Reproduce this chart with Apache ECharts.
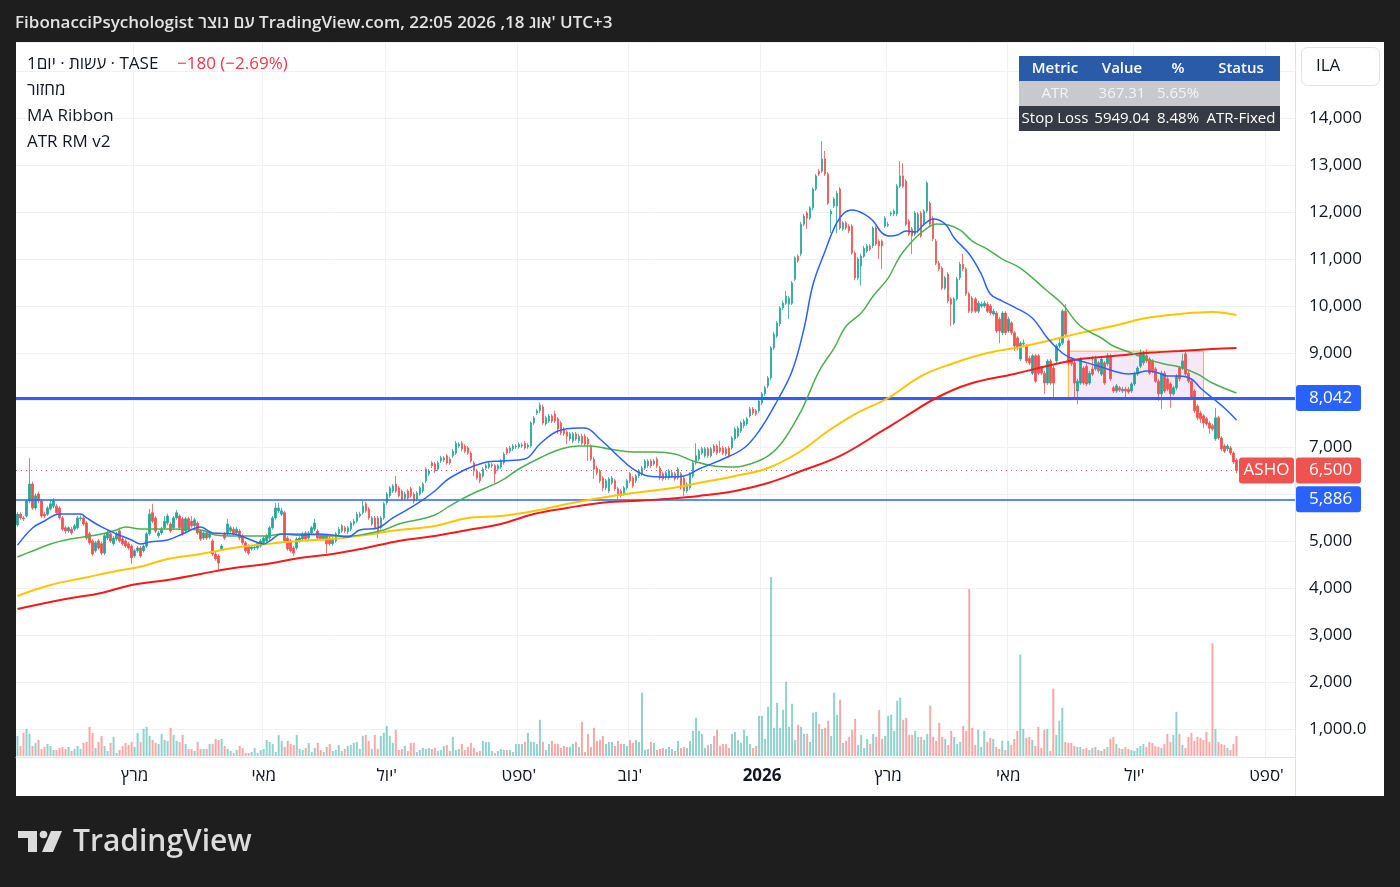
<!DOCTYPE html>
<html>
<head>
<meta charset="utf-8">
<title>ASHO - TASE</title>
<script src="https://cdn.jsdelivr.net/npm/echarts@6/dist/echarts.min.js"></script>
<style>
    html, body {margin: 0; padding: 0; background: #1e1e1e;}
    #chart {width: 1400px; height: 887px;}
</style>
</head>
<body>
<div id="chart"></div>
<script>
// ASHO daily candles (Jan 2025 .. 18 Aug 2026)
const opens = [
    5340,5570,5490,5530,5850,6210,5700,6000,5850,5570, 5570,5680,5740,5740,5700,5490,5280,5210,5250,5250,
    5280,5470,5490,5380,5150,5000,4790,5000,4940,4740, 5060,5150,4940,5040,5210,5040,5000,4940,4890,4680,
    4790,4850,4790,4890,5150,5600,5490,5110,5170,5280, 5380,5360,5280,5490,5530,5470,5210,5470,5420,5320,
    5380,5210,5060,5170,5080,5000,4720,4680,4830,5150, 5150,5210,5250,5170,5210,5110,4960,4890,4830,4850,
    4850,4890,4960,5000,5060,5280,5490,5640,5570,5600, 5060,5000,4850,4850,5000,5040,5170,5060,5170,5250,
    5210,5110,5040,5110,5060,4940,5000,5150,5210,5280, 5190,5250,5360,5420,5530,5600,5790,5680,5360,5490,
    5490,5280,5490,5810,5960,6060,6210,6130,6060,5910, 6060,6110,6000,5890,6000,6060,6280,6430,6660,6640,
    6530,6700,6720,6810,6740,6810,6870,7020,7080,7020, 6980,6870,6660,6490,6430,6380,6550,6570,6600,6600,
    6530,6570,6660,6960,6910,6960,7000,7000,7020,7080, 7000,7020,7510,7720,7770,7850,7490,7550,7660,7700,
    7600,7510,7380,7320,7170,7130,7280,7130,7230,7230, 7170,7020,6740,6550,6490,6340,6130,6060,6230,6280,
    6110,6060,6000,6130,6430,6340,6280,6380,6430,6550, 6600,6700,6640,6740,6550,6430,6340,6340,6380,6430,
    6340,6430,6340,6060,6130,6380,6660,6740,6870,6810, 6960,6810,7020,7020,6980,6980,6960,6980,6980,7170,
    7230,7340,7450,7490,7660,7810,7770,7770,7940,8130, 8300,8470,9110,9360,9620,9960,10060,10040,10060,10570,
    11060,11110,11740,11980,11870,12090,12490,12870,12870,13130, 12810,11960,12130,12130,12490,11640,11770,11700,11700,11130,
    10600,10850,11060,11170,11280,11280,11660,11380,11380,11700, 11720,11960,11960,11960,12550,12770,12660,11810,11640,11530,
    11600,11980,11740,12020,12190,11870,11380,10910,10810,10380, 10680,10150,9640,10150,10600,10890,10790,10260,10170,10150,
    9890,10000,10000,10040,10000,9830,9850,9720,9430,9850, 9470,9640,9430,9320,8870,9190,9150,8890,8570,8940,
    8940,8680,8570,8360,8830,8680,8830,9150,9210,9890, 9260,8870,8790,8190,8360,8680,8720,8360,8660,8660,
    8790,8550,8790,8770,8940,8260,8190,8260,8190,8230, 8230,8190,8340,8550,8720,8790,8940,8870,8830,8660,
    8400,8130,8570,8450,8340,8130,8260,8680,8680,8980, 8570,8400,8190,7870,7720,7660,7600,7510,7450,7170,
    7620,7190,7020,6960,6980,6870,6720
];
const closes = [
    5570,5490,5470,5850,6210,5700,5960,5850,5530,5530, 5700,5790,5850,5600,5490,5250,5210,5280,5170,5320,
    5490,5490,5360,5060,4960,4720,4960,4850,4740,5110, 5170,5000,5060,5150,5000,4940,4890,4850,4640,4790,
    4850,4680,4890,5150,5570,5420,5210,5170,5250,5420, 5530,5210,5490,5600,5280,5150,5470,5250,5320,5450,
    5170,5040,5170,5060,5150,4720,4620,4530,4890,5060, 5360,5280,5150,5250,5060,4960,4790,4740,4870,4870,
    4940,5000,5060,5110,5280,5490,5700,5700,5640,5000, 4830,4790,4740,5040,5060,5150,5040,5170,5280,5380,
    5060,5040,5110,4940,4940,5040,5150,5250,5320,5210, 5280,5380,5420,5570,5570,5740,5640,5490,5490,5280,
    5210,5490,5790,6000,6130,6170,6060,5960,5890,6000, 5910,5960,5850,6020,6130,6210,6530,6490,6600,6490,
    6660,6770,6770,6660,6660,6910,7080,7060,6960,6910, 6870,6700,6490,6340,6280,6530,6600,6640,6620,6430,
    6600,6700,6850,6870,6980,7020,7020,7060,7040,6980, 7040,7510,7620,7770,7890,7510,7620,7660,7550,7550,
    7380,7300,7280,7230,7280,7280,7170,7230,7080,7060, 7060,6740,6530,6450,6280,6130,6280,6320,6340,6110,
    6000,5960,6130,6280,6280,6170,6380,6490,6550,6700, 6700,6600,6700,6600,6340,6320,6450,6490,6450,6320,
    6530,6130,6060,6210,6430,6660,6810,6910,6960,6960, 6810,6960,6910,6870,6910,6870,6850,6810,7190,7380,
    7400,7510,7550,7600,7810,7720,7700,7980,8130,8260, 8470,9110,9400,9640,9960,10060,10210,10170,10490,11020,
    10960,11740,11910,11870,12090,12490,12770,12810,13130,12810, 12190,12020,12280,12400,11660,11770,11660,11600,11130,10600,
    11000,11060,11230,11280,11210,11660,11320,11280,11280,11870, 11740,11980,12020,12550,12770,12550,11740,11530,11490,11980,
    11960,11490,12020,12620,11740,11430,10910,10790,10380,10600, 10110,10040,10150,10570,10890,10790,10260,9890,9890,9890,
    10060,10040,10060,9890,9850,9890,9470,9470,9850,9430, 9720,9430,9150,9110,9210,9210,8830,8790,8940,8400,
    8570,8570,8360,8830,8360,8360,9150,9210,9890,9400, 8790,8770,8360,8400,8870,8360,8340,8570,8550,8870,
    8620,8870,8360,8940,8450,8190,8300,8210,8230,8190, 8170,8340,8550,8680,9000,9000,8830,8570,8620,8400,
    8130,8570,8190,8230,8130,8260,8510,8450,8830,8550, 8400,8040,7770,7620,7600,7510,7490,7400,7380,7620,
    7190,6960,6910,7020,6870,6680,6500
];
const highs = [
    5620,5610,5530,5880,6760,6260,6010,6050,5900,5620, 5740,5890,5910,5790,5740,5530,5320,5310,5300,5360,
    5530,5540,5530,5420,5190,5040,5000,5040,4980,5150, 5250,5190,5100,5190,5280,5080,5040,4980,4930,4830,
    4890,4890,4930,5190,5680,5790,5530,5210,5300,5530, 5580,5400,5530,5660,5570,5510,5510,5510,5530,5490,
    5420,5250,5210,5210,5190,5040,4760,4720,4930,5190, 5470,5320,5300,5300,5250,5150,5000,4930,4910,4910,
    4980,5040,5100,5150,5320,5530,5810,5810,5700,5640, 5100,5040,4890,5080,5100,5190,5210,5210,5320,5470,
    5250,5150,5150,5150,5100,5080,5190,5300,5360,5320, 5320,5420,5470,5620,5620,5850,5830,5720,5530,5530,
    5530,5530,5830,6040,6170,6210,6380,6170,6100,6040, 6100,6150,6040,6060,6170,6250,6570,6530,6700,6680,
    6700,6810,6810,6850,6790,6960,7130,7100,7130,7060, 7020,6910,6700,6530,6470,6570,6640,6680,6660,6640,
    6640,6740,6890,7000,7020,7060,7060,7100,7080,7130, 7080,7550,7660,7810,7940,7900,7660,7700,7700,7770,
    7640,7550,7420,7360,7320,7320,7320,7280,7280,7280, 7210,7060,6790,6600,6530,6380,6320,6360,6380,6320,
    6150,6100,6170,6320,6470,6380,6420,6530,6600,6740, 6740,6740,6740,6790,6600,6470,6490,6530,6490,6470,
    6570,6470,6380,6250,6470,6700,7080,6960,7000,7000, 7000,7000,7060,7060,7130,7020,7000,7020,7230,7420,
    7450,7550,7600,7640,7850,7850,7810,8020,8170,8300, 8510,9150,9450,9680,10000,10110,10320,10210,10530,11060,
    11100,11790,11960,12020,12130,12530,12810,12920,13510,13300, 12850,12060,12320,12450,12530,11810,11810,11740,11740,11170,
    11040,11110,11280,11320,11320,11700,11700,11420,11420,11910, 11790,12020,12060,12600,13080,13040,12700,11850,11680,12020,
    12000,12020,12060,12660,12230,11910,11430,10960,10850,10640, 10720,10190,10190,10620,10940,11110,10830,10300,10210,10190,
    10110,10090,10110,10090,10040,9940,9890,9770,9890,9890, 9770,9680,9470,9360,9250,9290,9190,8940,8980,8980,
    8980,8720,8620,8870,8870,8720,9190,9300,9940,10040, 9300,8910,8830,8450,8910,8720,8770,8620,8940,8940,
    8830,8910,8830,9000,8980,8300,8340,8300,8280,8280, 8280,8380,8600,8720,9080,9040,9080,8910,8870,8700,
    8450,8620,8620,8490,8380,8300,8550,8720,8980,9020, 8620,8450,8230,7910,7770,7700,7640,7550,7490,7830,
    7660,7230,7060,7060,7020,6910,6760
];
const lows = [
    5300,5450,5420,5500,5800,5660,5650,5800,5490,5480, 5530,5650,5700,5560,5450,5210,5150,5170,5130,5210,
    5240,5430,5320,5020,4920,4680,4750,4810,4700,4700, 5020,4960,4900,5000,4960,4900,4850,4810,4510,4640,
    4750,4640,4750,4850,5110,5380,5170,5060,5130,5240, 5340,5170,5240,5450,5240,5110,5170,5210,5280,5280,
    5130,5000,5020,5020,5040,4680,4580,4360,4790,5020, 5110,5170,5110,5130,5020,4920,4750,4700,4790,4810,
    4810,4850,4920,4960,5020,5240,5450,5600,5530,4960, 4790,4750,4680,4810,4960,5000,5000,5020,5130,5210,
    5020,5000,5000,4740,4900,4900,4960,5110,5170,5170, 5150,5210,5320,5380,5490,5560,5600,5450,5320,5240,
    5060,5240,5450,5770,5920,6020,6020,5920,5850,5870, 5870,5920,5790,5850,5960,6020,6230,6380,6550,6450,
    6490,6660,6680,6620,6620,6770,6830,6980,6910,6870, 6830,6660,6380,6300,6230,6340,6510,6530,6550,6230,
    6490,6530,6620,6830,6870,6910,6960,6960,6980,6940, 6960,6980,7470,7680,7720,7470,7450,7510,7510,7510,
    7280,7250,7230,7060,7130,7080,7130,7080,7040,7020, 6700,6700,6320,6400,6230,6060,6080,6020,6190,6060,
    5890,5920,5960,6090,6230,6130,6230,6340,6380,6510, 6550,6550,6600,6550,6300,6280,6300,6300,6340,6280,
    6300,6090,5960,6020,6090,6340,6620,6700,6830,6770, 6770,6770,6870,6830,6870,6830,6810,6770,6940,7130,
    7190,7300,7400,7450,7620,7680,7660,7720,7890,8080, 8250,8420,9060,9320,9570,9910,10020,9720,10020,10530,
    10920,11060,11700,11640,11830,12040,12450,12770,12830,12770, 12150,11550,12090,11550,11620,11600,11620,11550,11090,10550,
    10550,10430,11020,11130,11170,11230,11280,11000,10790,11660, 11680,11910,11910,11910,12510,12510,11700,11490,11110,11490,
    11550,11450,11700,11980,11700,11380,10870,10740,10340,10340, 10060,9570,9600,10110,10550,10740,10210,9850,9850,9850,
    9850,9960,9960,9850,9810,9790,9430,9210,9380,9380, 9430,9380,9040,9060,8830,9150,8790,8740,8530,8360,
    8530,8530,8130,8320,8320,8040,8790,9100,9170,9360, 8740,8720,8040,7910,8320,8320,8300,8320,8510,8620,
    8570,8510,8320,8720,8400,8150,8150,8170,8150,8040, 8130,8150,8300,8510,8680,8740,8790,8530,8570,8360,
    7980,7810,8150,8190,7830,8090,8210,8400,8640,8510, 8360,8000,7720,7570,7510,7400,7450,7280,7340,7130,
    7150,6910,6870,6910,6830,6640,6440
];
// volume, thousands of shares
const volumes = [
    20,10,23,27,22,10,13,16,7,9, 12,10,6,6,8,9,7,9,5,7, 10,7,13,14,29,23,8,14,20,10,
    5,13,19,3,6,10,13,11,14,9, 23,14,27,29,20,16,13,12,22,16, 15,28,21,15,14,21,12,7,7,5,
    14,7,7,7,12,12,17,16,17,10, 7,5,3,6,10,8,3,3,4,8, 3,6,7,16,14,12,4,21,15,9,
    15,12,11,21,7,6,8,13,4,8, 13,6,4,9,12,5,6,11,5,7, 10,11,13,14,7,20,21,15,7,21,
    7,20,23,30,20,13,26,6,7,10, 5,13,13,4,6,8,7,8,7,8, 5,6,10,11,5,19,6,7,12,6,
    9,13,8,4,5,15,14,14,5,3, 5,7,6,6,6,4,12,12,12,14, 23,14,14,12,36,14,6,12,15,12,
    12,8,10,9,9,12,14,9,34,4, 22,9,28,15,16,20,12,14,14,10, 15,12,12,10,16,13,16,14,63,6,
    7,14,13,6,7,8,7,9,7,5, 15,8,9,8,15,25,38,25,22,8, 11,12,20,26,10,12,12,8,22,24,
    16,13,26,20,12,8,10,40,40,17, 49,178,28,53,28,46,74,29,52,16, 31,29,22,22,14,43,44,32,27,28,
    35,20,63,41,56,13,15,19,26,37, 11,21,8,17,12,22,19,46,17,20, 40,41,25,55,58,36,38,21,21,25,
    19,19,16,22,50,19,15,33,19,17, 11,25,19,12,14,30,25,166,28,11, 26,9,25,14,18,17,9,7,15,6,
    15,11,17,25,101,27,18,19,16,10, 29,8,26,27,5,67,21,35,48,14, 13,13,10,9,9,7,8,6,8,9,
    6,5,7,9,17,19,12,8,7,9, 7,6,5,8,10,12,9,14,13,10, 9,8,12,22,14,21,44,22,11,8,
    19,23,15,19,18,16,24,14,112,27, 14,12,11,8,6,12,20
];

// MA ribbon as [bar index, price]
const maBlue = [[0,4910],[5,5275],[9,5424],[14,5573],[21,5573],[23,5488],[28,5297],[33,5148],[38,5020],[41,4935],
    [44,4978],[50,5020],[55,5148],[61,5297],[65,5169],[72,5148],[77,5041],[82,4935],[84,5000],[88,5148],[94,5126],
    [100,5148],[105,5126],[110,5084],[114,5233],[120,5275],[125,5488],[133,5786],[139,6063],[144,6339],[155,6659],
    [161,6701],[169,6744],[174,7063],[180,7340],[187,7403],[189,7403],[194,7169],[200,6808],[205,6531],[210,6382],
    [216,6360],[222,6382],[227,6531],[235,6744],[242,6978],[247,7340],[253,7978],[258,8616],[262,9531],[265,10468],
    [269,11170],[272,11659],[275,11957],[278,12042],[282,11957],[285,11808],[288,11553],[291,11489],[293,11510],
    [296,11596],[299,11574],[302,11745],[305,11851],[309,11745],[312,11447],[317,11106],[321,10681],[324,10255],
    [328,10106],[332,9978],[338,9745],[343,9319],[348,8999],[351,8893],[354,8829],[360,8723],[365,8616],[370,8553],
    [373,8574],[376,8616],[380,8574],[383,8510],[387,8510],[391,8446],[394,8255],[398,8042],[402,7829],[406,7574]];
const maGreen = [[0,4658],[5,4786],[11,4935],[16,5020],[22,5084],[28,5148],[33,5233],[36,5297],[41,5254],[50,5254],
    [61,5233],[66,5126],[72,5105],[83,5105],[88,5148],[94,5148],[100,5126],[105,5105],[111,5105],[116,5148],[122,5233],
    [127,5361],[133,5446],[139,5552],[144,5744],[150,5956],[161,6276],[167,6531],[174,6765],[181,6957],[187,7020],
    [191,7020],[197,6957],[205,6893],[212,6893],[219,6850],[225,6701],[232,6595],[239,6574],[244,6637],[250,6808],
    [255,7127],[261,7765],[263,8042],[267,8616],[272,9106],[276,9574],[281,9851],[285,10212],[290,10595],[294,11064],
    [299,11447],[303,11659],[306,11745],[310,11723],[314,11617],[318,11383],[323,11213],[328,11000],[334,10808],
    [343,10319],[348,10042],[354,9574],[361,9319],[365,9148],[371,8999],[376,8872],[382,8765],[387,8701],[393,8553],
    [398,8361],[406,8148]];
const maYellow = [[0,3828],[11,4062],[22,4211],[33,4360],[42,4467],[50,4616],[61,4722],[72,4850],[83,4935],[94,4999],
    [105,5041],[116,5126],[127,5233],[139,5318],[150,5488],[161,5531],[172,5637],[183,5786],[194,5914],[205,6020],
    [216,6105],[227,6233],[239,6382],[250,6552],[261,6914],[270,7340],[279,7701],[290,8042],[301,8510],[312,8787],
    [323,8999],[334,9127],[343,9255],[354,9425],[365,9574],[376,9744],[387,9829],[398,9872],[406,9808]];
const maRed = [[0,3552],[16,3765],[28,3892],[38,4062],[50,4169],[61,4296],[72,4424],[83,4509],[94,4637],[105,4722],
    [116,4850],[127,4999],[139,5105],[150,5233],[161,5361],[172,5573],[183,5701],[194,5807],[205,5850],[216,5893],
    [227,5956],[239,6063],[250,6233],[261,6488],[274,6808],[288,7340],[295,7616],[306,8042],[317,8340],[332,8553],
    [343,8723],[354,8872],[365,8936],[376,8999],[387,9043],[398,9085],[406,9106]];

const resistance = 8042;
const stopLevel = 5886;
const lastPrice = 6500;
const boxStart = 350, boxEnd = 395, boxTop = 9040, boxBottom = 8042;

const tableHead = ['Metric', 'Value', '%', 'Status'];
const atrRow = ['ATR', '367.31', '5.65%', ''];
const stopRow = ['Stop Loss', '5949.04', '8.48%', 'ATR-Fixed'];

const hebMonths = ["ינו'", "פבר'", 'מרץ', "אפר'", 'מאי', 'יוני', "יול'", "אוג'", "ספט'", "אוק'", "נוב'", "דצמ'"];
const shownMonths = [0, 2, 4, 6, 8, 10];
const holidays = ['2025-04-13', '2025-05-01', '2025-06-02', '2025-09-22', '2025-09-23', '2025-09-24',
    '2025-10-01', '2025-10-02', '2025-10-07', '2025-10-14',
    '2026-04-01', '2026-04-02', '2026-04-08', '2026-04-22', '2026-05-22'];

const FONT = "'Open Sans', 'DejaVu Sans', sans-serif";
const UP = '#26a69a', DOWN = '#ef5350';

// TASE calendar: Sun-Thu during 2025, Mon-Fri from 2026; extra empty days on the right
let days = [];
let d = new Date(Date.UTC(2025, 0, 6));
while (days.length < 426) {
    const iso = d.toISOString().slice(0, 10);
    const wd = d.getUTCDay();
    const off = d.getUTCFullYear() < 2026 ? (wd === 5 || wd === 6) : (wd === 0 || wd === 6);
    if (!off && !holidays.includes(iso)) days.push(iso);
    d.setUTCDate(d.getUTCDate() + 1);
}

function month_tick(idx) {
    if (idx === 0) return false;
    if (days[idx].slice(5, 7) === days[idx - 1].slice(5, 7)) return false;
    return shownMonths.includes(+days[idx].slice(5, 7) - 1);
}

function ma_series(points, color, width) {
    return {
        type: 'line', data: points.map(p => [days[p[0]], p[1]]), smooth: 0.4, showSymbol: false, silent: true,
        lineStyle: {color: color, width: width}, z: 5
    };
}

let candle_data = opens.map((o, i) => [o, closes[i], lows[i], highs[i]]);
let vol_data = volumes.map((v, i) => ({
    value: v,
    itemStyle: {color: closes[i] >= opens[i] ? 'rgba(38,166,154,0.5)' : 'rgba(239,83,80,0.5)'}
}));

let option = {
    backgroundColor: '#1e1e1e',
    animation: false,
    textStyle: {fontFamily: FONT},
    grid: [
        {left: 16, right: 105, top: 42, bottom: 130},
        {left: 16, right: 105, top: 555, bottom: 131}
    ],
    xAxis: [{
        type: 'category', data: days, gridIndex: 0,
        axisLine: {lineStyle: {color: '#e0e3eb'}}, axisTick: {show: false},
        axisLabel: {
            interval: month_tick, margin: 11, color: '#131722', fontSize: 17, fontFamily: FONT,
            formatter: function (value) {
                const m = +value.slice(5, 7) - 1;
                return m === 0 ? '{y|' + value.slice(0, 4) + '}' : hebMonths[m];
            },
            rich: {y: {fontWeight: 'bold', fontSize: 17, color: '#131722', fontFamily: FONT}}
        },
        splitLine: {show: true, interval: month_tick, lineStyle: {color: '#f0f1f4'}}
    }, {
        type: 'category', data: days, gridIndex: 1, show: false
    }],
    yAxis: [{
        type: 'value', position: 'right', gridIndex: 0,
        min: 400, max: 15620, splitNumber: 15, minInterval: 1000, maxInterval: 1000,
        axisLine: {show: false}, axisTick: {show: false},
        axisLabel: {
            color: '#131722', fontSize: 17, fontFamily: FONT, margin: 14,
            formatter: function (v) {
                if (v % 1000 !== 0 || v === 6000 || v === 8000 || v >= 15000) return '';
                if (v === 1000) return '1,000.0';
                return v.toLocaleString('en-US');
            }
        },
        splitLine: {lineStyle: {color: '#f0f1f4'}}
    }, {
        type: 'value', gridIndex: 1, min: 0, max: 200, show: false, splitLine: {show: false}
    }],
    series: [{
        name: 'ASHO', type: 'candlestick', xAxisIndex: 0, yAxisIndex: 0,
        data: candle_data, barWidth: 2, silent: true, z: 3,
        itemStyle: {color: UP, color0: DOWN, borderColor: UP, borderColor0: DOWN, borderWidth: 0.8},
        markLine: {
            silent: true, symbol: 'none', label: {show: false},
            data: [
                {yAxis: resistance, lineStyle: {color: '#2962ff', width: 3, type: 'solid'}},
                {yAxis: stopLevel, lineStyle: {color: '#2962ff', width: 1.5, type: 'solid'}},
                {yAxis: lastPrice, lineStyle: {color: '#ef5350', width: 1, type: [1, 4]}}
            ]
        },
        markArea: {
            silent: true,
            itemStyle: {color: 'rgba(225,190,231,0.35)', borderColor: '#f7b52c', borderWidth: 1},
            data: [[{coord: [days[boxStart], boxTop]}, {coord: [days[boxEnd], boxBottom]}]]
        }
    },
        ma_series(maRed, '#f21b1b', 2),
        ma_series(maYellow, '#ffc400', 2),
        ma_series(maGreen, '#4caf50', 1.5),
        ma_series(maBlue, '#2962ff', 1.5),
        {
            name: 'מחזור', type: 'bar', xAxisIndex: 1, yAxisIndex: 1, data: vol_data,
            barWidth: 2, silent: true, z: 1
        }]
};

let my_chart = echarts.init(document.getElementById('chart'));
my_chart.setOption(option);

// overlay: panel, legend, table, price tags, watermark
const py = (v) => my_chart.convertToPixel({yAxisIndex: 0}, v);

function txt(text, x, y, opts) {
    opts = opts || {};
    let el = {
        type: 'text', z: 101, silent: true,
        style: {
            text: text, x: x, y: y, fill: opts.fill || '#131722',
            font: (opts.weight || 'normal') + ' ' + (opts.size || 17) + 'px ' + FONT,
            align: opts.align || 'left', verticalAlign: 'middle'
        }
    };
    if (opts.rich) el.style.rich = opts.rich;
    return el;
}

function box(x, y, w, h, fill, r) {
    return {type: 'rect', z: 100, silent: true, shape: {x: x, y: y, width: w, height: h, r: r || 0}, style: {fill: fill}};
}

let g = [];
g.push({type: 'rect', z: -10, silent: true, shape: {x: 16, y: 42, width: 1368, height: 754}, style: {fill: '#ffffff'}});
g.push({type: 'line', z: 99, silent: true, shape: {x1: 1295.5, y1: 42, x2: 1295.5, y2: 796}, style: {stroke: '#e0e3eb', lineWidth: 1}});

// header, Hebrew words kept as separate runs so they sit as in the snapshot
const hdr = {fill: '#e3e3e3', fontWeight: 600, fontSize: 17, fontFamily: FONT};
g.push(txt("FibonacciPsychologist {h|נוצר} {h|עם} TradingView.com, 22:05 2026 ,18 {h|אוג'} UTC+3", 15, 23,
    {fill: '#e3e3e3', weight: 600, size: 17, rich: {h: hdr}}));

// legend, same treatment for the symbol line
const lg = {fill: '#131722', fontSize: 17, fontFamily: FONT};
g.push(txt('{h|1יום} · {h|עשות} · TASE', 27, 64, {rich: {h: lg}}));
g.push(txt('−180 (−2.69%)', 177, 64, {fill: '#f23645'}));
g.push(txt('מחזור', 27, 90));
g.push(txt('MA Ribbon', 27, 116));
g.push(txt('ATR RM v2', 27, 142));

// ATR table
const colX = [1055, 1122, 1178, 1241];
g.push(box(1019, 56, 261, 25, '#2a5ba8'));
g.push(box(1019, 81, 261, 25, '#c8c9cd'));
g.push(box(1019, 106, 261, 25, '#363a45'));
tableHead.forEach((t, i) => g.push(txt(t, colX[i], 68.5, {fill: '#ffffff', size: 15, weight: 600, align: 'center'})));
atrRow.forEach((t, i) => g.push(txt(t, colX[i], 93.5, {fill: '#f4f4f6', size: 15, align: 'center'})));
stopRow.forEach((t, i) => g.push(txt(t, colX[i], 118.5, {fill: '#ffffff', size: 15, align: 'center'})));

// currency box
g.push({type: 'rect', z: 100, silent: true, shape: {x: 1301.5, y: 47.5, width: 78, height: 38, r: 6},
    style: {fill: '#ffffff', stroke: '#e0e3eb', lineWidth: 1}});
g.push(txt('ILA', 1316, 66));

// price tags on the axis
const yRes = py(resistance), yStop = py(stopLevel), yLast = py(lastPrice);
g.push(box(1296, yRes - 13, 65, 26, '#2962ff', 3));
g.push(txt('8,042', 1309, yRes, {fill: '#ffffff'}));
g.push(box(1296, yLast - 13, 65, 26, '#ef5350', 3));
g.push(txt('6,500', 1309, yLast, {fill: '#ffffff'}));
g.push(box(1239, yLast - 13, 55, 26, '#ef5350', 3));
g.push(txt('ASHO', 1266.5, yLast, {fill: '#ffffff', align: 'center'}));
g.push(box(1296, yStop - 13, 65, 26, '#2962ff', 3));
g.push(txt('5,886', 1309, yStop, {fill: '#ffffff'}));

// TradingView watermark
g.push({type: 'polygon', z: 100, silent: true, shape: {points: [[18, 831], [37, 831], [37, 852], [28, 852], [28, 838], [18, 838]]}, style: {fill: '#dcdcdc'}});
g.push({type: 'circle', z: 100, silent: true, shape: {cx: 43.5, cy: 834.5, r: 3.8}, style: {fill: '#dcdcdc'}});
g.push({type: 'polygon', z: 100, silent: true, shape: {points: [[51, 831], [62, 831], [53, 852], [42, 852]]}, style: {fill: '#dcdcdc'}});
g.push(txt('TradingView', 73, 842, {fill: '#dcdcdc', weight: 600, size: 30}));

my_chart.setOption({graphic: g});
</script>
</body>
</html>
